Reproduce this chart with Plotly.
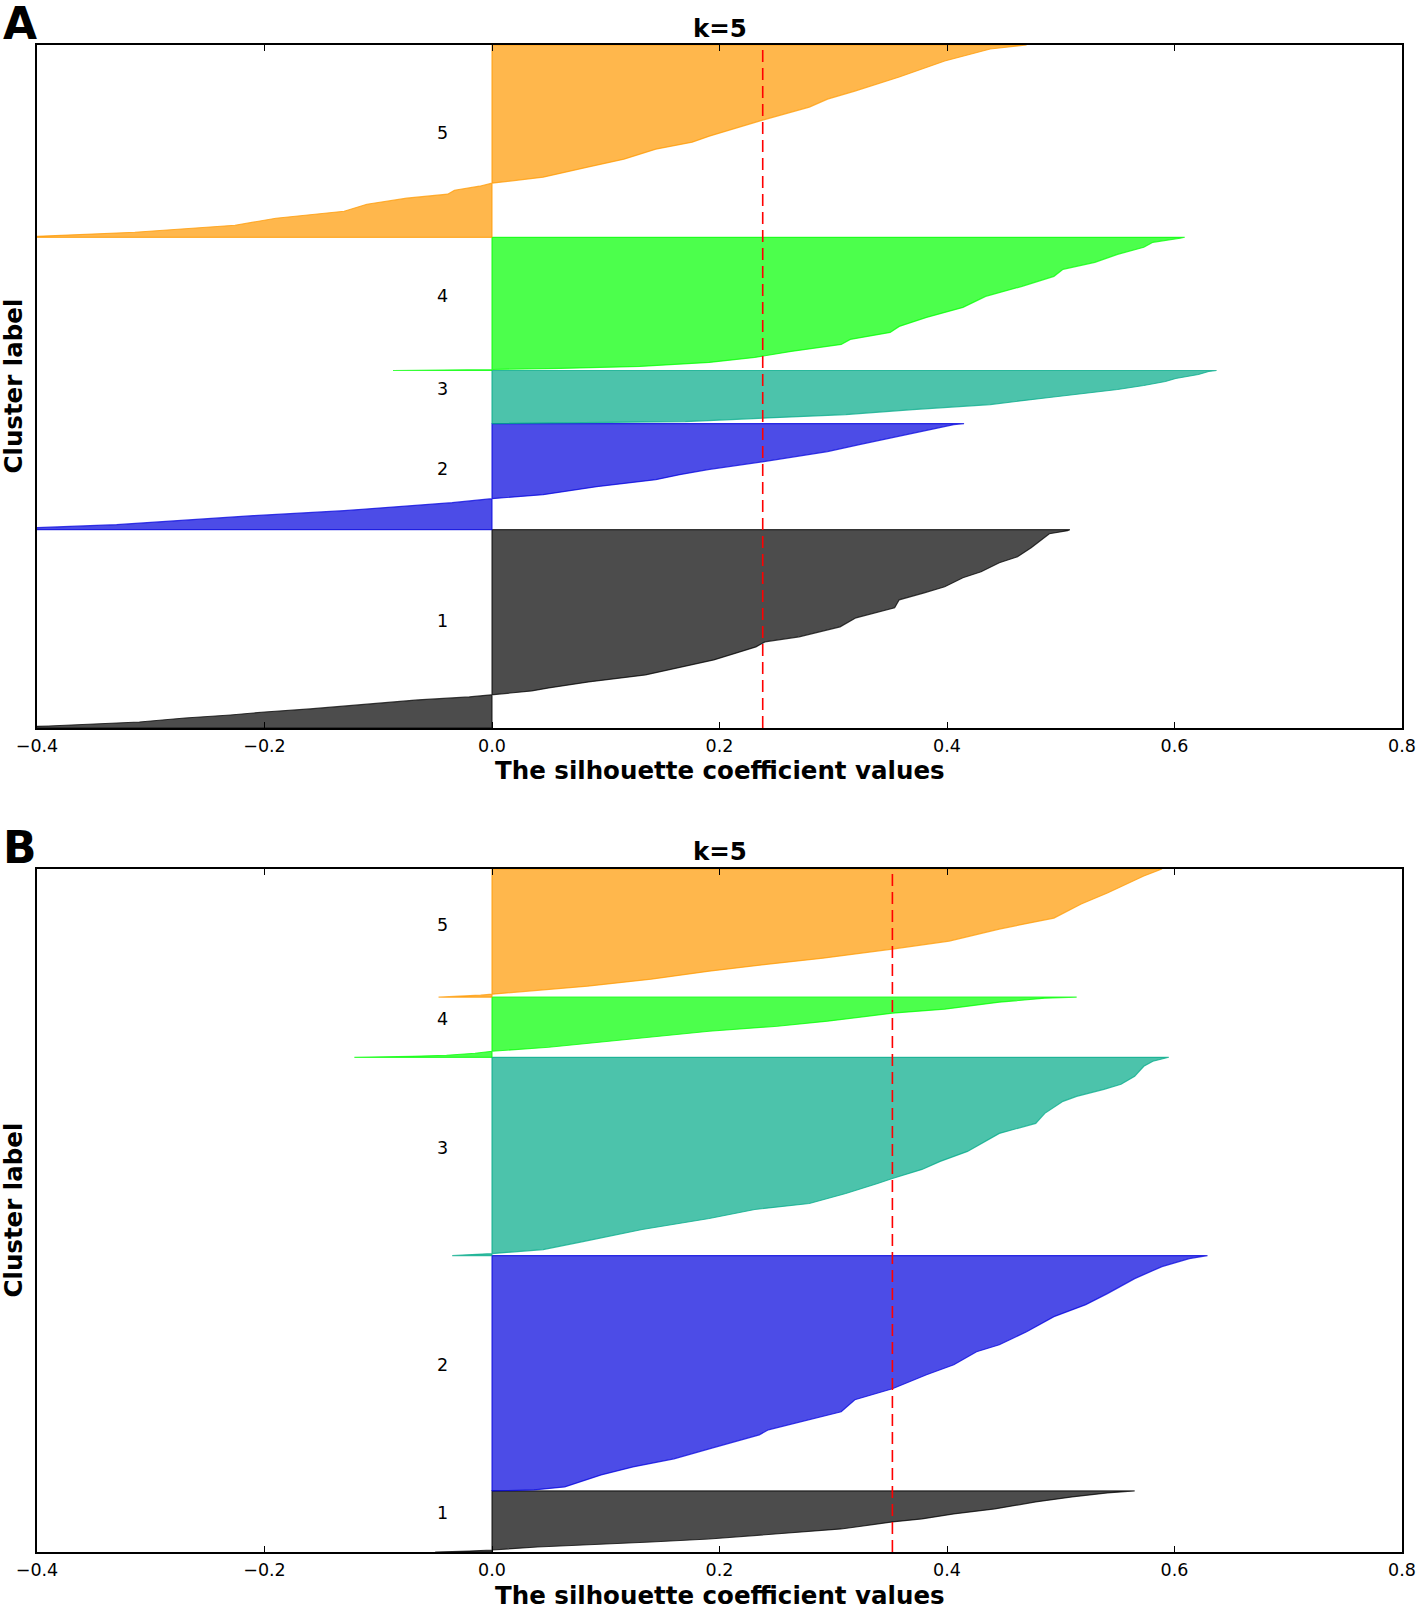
import plotly.graph_objects as go

# ---------------- data ----------------
cluster_labels = ["1", "2", "3", "4", "5"]
x_ticks = [-0.4, -0.2, 0.0, 0.2, 0.4, 0.6, 0.8]
x_tick_text = ["\u22120.4", "\u22120.2", "0.0", "0.2", "0.4", "0.6", "0.8"]
cluster_rgb = [(0, 0, 0), (0, 0, 221), (0, 170, 136), (0, 255, 0), (255, 153, 0)]

# Panel A (sample rank within cluster, sorted silhouette value)
a_sizes = [198, 106, 53, 133, 192]
a_avg = 0.238
a1_rank = [0, 2, 4, 6, 8, 10, 13, 16, 19, 22, 25, 28, 31, 33, 37, 40, 46, 53, 58, 62, 68, 75, 81, 86, 91, 101, 110, 120, 128, 135, 141, 150, 156, 165, 171, 180, 190, 194, 197, 198]
a1_val = [-0.45, -0.39, -0.35, -0.31, -0.29, -0.27, -0.23, -0.20, -0.16, -0.13, -0.10, -0.065, -0.02, 0.0, 0.035, 0.05, 0.085, 0.135, 0.155, 0.17, 0.195, 0.215, 0.232, 0.24, 0.27, 0.306, 0.32, 0.354, 0.358, 0.38, 0.398, 0.414, 0.43, 0.446, 0.462, 0.474, 0.486, 0.49, 0.506, 0.508]
a2_rank = [0, 2, 5, 8, 14, 19, 24, 27, 31, 35, 43, 50, 55, 60, 68, 78, 85, 95, 101, 105, 106]
a2_val = [-0.46, -0.40, -0.33, -0.29, -0.21, -0.13, -0.075, -0.035, 0.0, 0.045, 0.092, 0.144, 0.165, 0.19, 0.239, 0.295, 0.323, 0.366, 0.39, 0.406, 0.415]
a3_rank = [0, 1, 2, 4, 6, 9, 14, 19, 26, 30, 34, 38, 42, 45, 49, 52, 53]
a3_val = [0.0, 0.08, 0.17, 0.21, 0.25, 0.311, 0.37, 0.438, 0.49, 0.52, 0.55, 0.573, 0.592, 0.601, 0.621, 0.63, 0.637]
a4_rank = [0, 1, 2, 4, 8, 13, 19, 26, 31, 38, 44, 53, 63, 74, 84, 94, 101, 108, 116, 123, 128, 132, 133]
a4_val = [-0.087, 0.0, 0.06, 0.13, 0.191, 0.231, 0.263, 0.307, 0.315, 0.35, 0.358, 0.382, 0.414, 0.434, 0.466, 0.494, 0.502, 0.53, 0.55, 0.573, 0.581, 0.605, 0.609]
a5_rank = [0, 1, 5, 12, 19, 26, 33, 39, 43, 47, 51, 54, 60, 70, 78, 88, 95, 101, 117, 130, 138, 146, 160, 176, 188, 192]
a5_val = [-0.46, -0.40, -0.314, -0.226, -0.19, -0.13, -0.11, -0.075, -0.039, -0.033, -0.011, 0.0, 0.045, 0.084, 0.116, 0.144, 0.176, 0.191, 0.238, 0.279, 0.295, 0.319, 0.358, 0.398, 0.438, 0.47]

# Panel B
b_sizes = [61, 235, 198, 60, 128]
b_avg = 0.352
b1_rank = [0, 1, 2, 5, 7, 10, 13, 18, 23, 30, 33, 38, 43, 50, 55, 59, 61]
b1_val = [-0.05, -0.02, 0.0, 0.04, 0.084, 0.14, 0.191, 0.251, 0.307, 0.352, 0.378, 0.406, 0.442, 0.478, 0.51, 0.541, 0.565]
b2_rank = [0, 1, 4, 16, 24, 32, 42, 56, 61, 72, 79, 91, 102, 116, 126, 139, 146, 159, 174, 186, 197, 212, 224, 232, 235]
b2_val = [0.0, 0.037, 0.064, 0.096, 0.124, 0.16, 0.191, 0.235, 0.243, 0.283, 0.307, 0.319, 0.352, 0.382, 0.406, 0.426, 0.446, 0.47, 0.494, 0.522, 0.541, 0.565, 0.589, 0.613, 0.629]
b3_rank = [0, 2, 6, 14, 26, 37, 46, 52, 62, 72, 77, 86, 94, 104, 112, 122, 132, 142, 154, 159, 166, 171, 179, 189, 194, 198]
b3_val = [-0.035, 0.0, 0.045, 0.08, 0.132, 0.191, 0.231, 0.279, 0.311, 0.339, 0.352, 0.378, 0.394, 0.418, 0.43, 0.446, 0.478, 0.486, 0.502, 0.514, 0.538, 0.553, 0.565, 0.573, 0.581, 0.595]
b4_rank = [0, 1, 2, 4, 6, 10, 14, 20, 26, 31, 36, 44, 48, 55, 59, 60]
b4_val = [-0.121, -0.07, -0.04, -0.015, 0.0, 0.05, 0.084, 0.14, 0.191, 0.251, 0.295, 0.352, 0.398, 0.446, 0.486, 0.514]
b5_rank = [0, 2, 3, 7, 11, 18, 26, 33, 39, 48, 56, 68, 79, 93, 104, 121, 128]
b5_val = [-0.047, -0.01, 0.0, 0.045, 0.084, 0.14, 0.191, 0.243, 0.291, 0.352, 0.402, 0.446, 0.494, 0.518, 0.541, 0.573, 0.589]

panels = [
    dict(sizes=a_sizes, avg=a_avg, ranks=[a1_rank, a2_rank, a3_rank, a4_rank, a5_rank],
         vals=[a1_val, a2_val, a3_val, a4_val, a5_val], xa="x", ya="y", letter="A"),
    dict(sizes=b_sizes, avg=b_avg, ranks=[b1_rank, b2_rank, b3_rank, b4_rank, b5_rank],
         vals=[b1_val, b2_val, b3_val, b4_val, b5_val], xa="x2", ya="y2", letter="B"),
]

FONT = "DejaVu Sans, Bitstream Vera Sans, sans-serif"
TITLE_SIZE = 24.5
TICK_SIZE = 17.5
W, H = 1418, 1608
ML, MR, MT, MB = 37, 16, 45, 56
PH = H - MT - MB
dom_a = [1 - (728 - MT) / PH, 1.0]
dom_b = [0.0, 1 - (869 - MT) / PH]
domains = [dom_a, dom_b]

fig = go.Figure()
annotations = []

for p_i, p in enumerate(panels):
    total = sum(p["sizes"])
    lo = 0
    for i in range(5):
        r, g, b = cluster_rgb[i]
        ranks = p["ranks"][i]
        vals = p["vals"][i]
        size = p["sizes"][i]
        xs = [0] + list(vals) + [0, 0]
        ys = [lo] + [lo + k for k in ranks] + [lo + size, lo]
        fig.add_trace(go.Scatter(
            x=xs, y=ys, mode="lines", fill="toself",
            fillcolor=f"rgba({r},{g},{b},0.7)",
            line=dict(color=f"rgba({r},{g},{b},0.75)", width=1.2),
            xaxis=p["xa"], yaxis=p["ya"], showlegend=False, hoverinfo="skip"))
        annotations.append(dict(
            x=-0.05, y=lo + 0.5 * size, xref=p["xa"], yref=p["ya"],
            text=cluster_labels[i], showarrow=False, xanchor="left", yanchor="bottom",
            yshift=-4, font=dict(family=FONT, size=TICK_SIZE, color="black")))
        lo += size
    # average silhouette line
    fig.add_trace(go.Scatter(
        x=[p["avg"], p["avg"]], y=[0, total], mode="lines",
        line=dict(color="red", width=1.6, dash="12px,6px"),
        xaxis=p["xa"], yaxis=p["ya"], showlegend=False, hoverinfo="skip"))
    dom = domains[p_i]
    annotations.append(dict(x=0.5, y=dom[1], xref="paper", yref="paper", text="<b>k=5</b>",
                            showarrow=False, xanchor="center", yanchor="middle", yshift=17,
                            font=dict(family=FONT, size=TITLE_SIZE, color="black")))
    annotations.append(dict(x=0.5, y=dom[0], xref="paper", yref="paper",
                            text="<b>The silhouette coefficient values</b>",
                            showarrow=False, xanchor="center", yanchor="middle", yshift=-43,
                            font=dict(family=FONT, size=TITLE_SIZE, color="black")))
    annotations.append(dict(x=0, y=(dom[0] + dom[1]) / 2, xref="paper", yref="paper",
                            text="<b>Cluster label</b>", textangle=-90,
                            showarrow=False, xanchor="center", yanchor="middle", xshift=-24,
                            font=dict(family=FONT, size=TITLE_SIZE, color="black")))
    annotations.append(dict(x=0, y=dom[1], xref="paper", yref="paper",
                            text=f"<b>{p['letter']}</b>", showarrow=False,
                            xanchor="center", yanchor="middle", xshift=-17,
                            yshift=22 if p_i == 0 else 21,
                            font=dict(family=FONT, size=44, color="black")))
    p["total"] = total

xaxis_common = dict(range=[-0.4, 0.8], tickvals=x_ticks, ticktext=x_tick_text,
                    ticks="inside", ticklen=6, tickwidth=1, tickcolor="black",
                    showline=True, linecolor="black", linewidth=1.5, mirror="ticks",
                    showgrid=False, zeroline=False, ticklabelstandoff=1, automargin=False,
                    tickfont=dict(family=FONT, size=TICK_SIZE, color="black"))
yaxis_common = dict(showticklabels=False, ticks="", showline=True, linecolor="black",
                    linewidth=1.5, mirror=True, showgrid=False, zeroline=False, automargin=False)

fig.update_layout(
    width=W, height=H, margin=dict(l=ML, r=MR, t=MT, b=MB, autoexpand=False),
    paper_bgcolor="white", plot_bgcolor="white",
    xaxis=dict(**xaxis_common, anchor="y", domain=[0, 1]),
    yaxis=dict(**yaxis_common, anchor="x", domain=dom_a, range=[0, panels[0]["total"]]),
    xaxis2=dict(**xaxis_common, anchor="y2", domain=[0, 1]),
    yaxis2=dict(**yaxis_common, anchor="x2", domain=dom_b, range=[0, panels[1]["total"]]),
    annotations=annotations, showlegend=False,
)

fig.write_html("out.html", config={"displayModeBar": False},
               post_script="document.body.style.margin='0';")
